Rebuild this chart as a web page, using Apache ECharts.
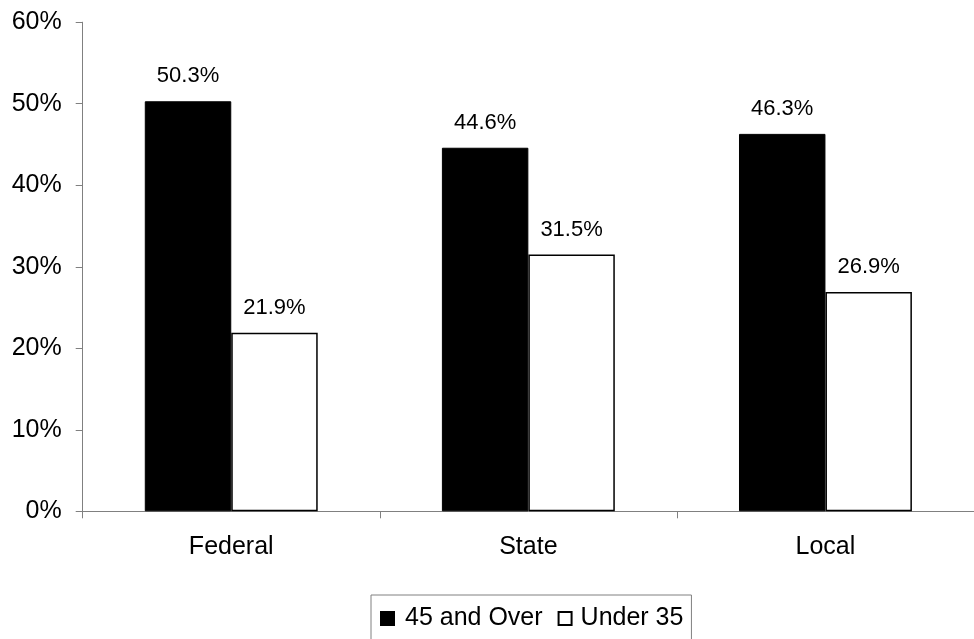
<!DOCTYPE html>
<html>
<head>
<meta charset="utf-8">
<script src="https://cdn.jsdelivr.net/npm/echarts@6/dist/echarts.min.js"></script>
<style>
html,body{margin:0;padding:0;background:#fff;}
#chart{width:974px;height:639px;}
</style>
</head>
<body>
<div id="chart"></div>
<script>
const categories = ['Federal', 'State', 'Local'];
const over45 = [50.3, 44.6, 46.3];
const under35 = [21.9, 31.5, 26.9];
const seriesNames = ['45 and Over', 'Under 35'];
const yTicks = { min: 0, max: 60, interval: 10 };

const FONT = '"Liberation Sans", Arial, sans-serif';
const chart = echarts.init(document.getElementById('chart'), null, { renderer: 'canvas' });

const labelCfg = {
  show: true,
  position: 'top',
  distance: 14,
  color: '#000',
  fontFamily: FONT,
  fontSize: 22,
  formatter: p => p.value.toFixed(1) + '%'
};

chart.setOption({
  backgroundColor: '#fff',
  animation: false,
  grid: { left: 82.7, top: 22.2, width: 897.7, height: 489.1, containLabel: false },
  legend: {
    data: [
      { name: seriesNames[0], icon: 'rect', textStyle: { padding: [0, 0, 0, 6] } },
      { name: seriesNames[1], icon: 'rect', textStyle: { padding: [0, 0, 0, 4] } }
    ],
    left: 371,
    top: 595,
    orient: 'horizontal',
    itemWidth: 13,
    itemHeight: 13,
    itemGap: 15,
    padding: [11, 8, 11, 9],
    borderColor: '#808080',
    borderWidth: 1,
    textStyle: { color: '#000', fontFamily: FONT, fontSize: 25 }
  },
  xAxis: {
    type: 'category',
    data: categories,
    axisLine: { show: true, lineStyle: { color: '#808080', width: 1 } },
    axisTick: { show: true, length: 7, lineStyle: { color: '#808080' } },
    axisLabel: { color: '#000', fontFamily: FONT, fontSize: 25, margin: 23 },
    splitLine: { show: false }
  },
  yAxis: {
    type: 'value',
    min: yTicks.min,
    max: yTicks.max,
    interval: yTicks.interval,
    axisLine: { show: true, lineStyle: { color: '#808080', width: 1 } },
    axisTick: { show: true, length: 7, lineStyle: { color: '#808080' } },
    axisLabel: { color: '#000', fontFamily: FONT, fontSize: 25, margin: 21, formatter: '{value}%' },
    splitLine: { show: false }
  },
  series: [
    {
      name: seriesNames[0],
      type: 'bar',
      data: over45,
      barGap: '0%',
      barCategoryGap: '41.8%',
      itemStyle: { color: '#000', borderColor: '#000', borderWidth: 1 },
      label: labelCfg
    },
    {
      name: seriesNames[1],
      type: 'bar',
      data: under35,
      barGap: '0%',
      barCategoryGap: '41.8%',
      itemStyle: { color: '#fff', borderColor: '#000', borderWidth: 1.5 },
      label: labelCfg
    }
  ]
});
</script>
</body>
</html>
